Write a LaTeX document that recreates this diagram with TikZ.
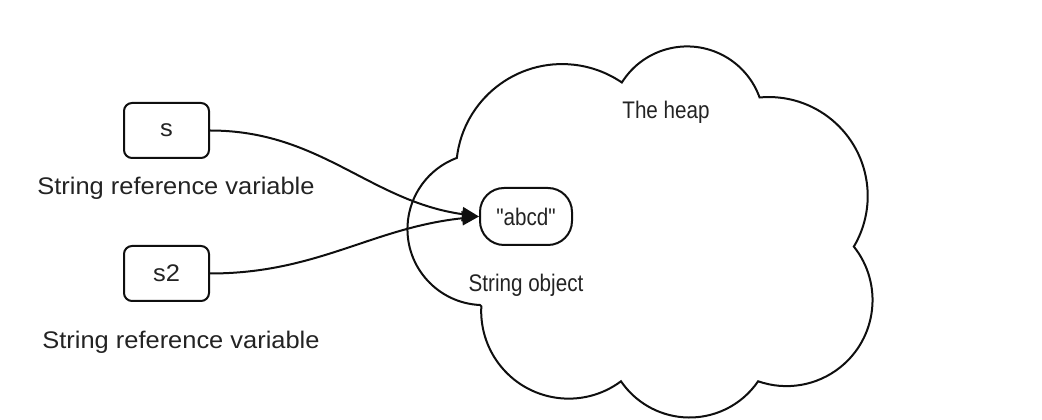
\documentclass[tikz,border=0pt]{standalone}
\usepackage{fontspec}
\setmainfont{Liberation Sans}
\newfontfamily\plainsans{Liberation Sans}[Ligatures=TeXOff]
\usepackage{graphicx}
\usetikzlibrary{arrows.meta}
\definecolor{textgray}{RGB}{35,35,35}
\definecolor{linegray}{RGB}{15,15,15}
\newcommand{\widetxt}[1]{\scalebox{1.06}[1]{#1}}
\newcommand{\narrowtxt}[1]{\scalebox{0.86}[1]{#1}}
\begin{document}
\begin{tikzpicture}[x=1pt,y=1pt,
  every node/.style={font=\fontsize{24}{28}\selectfont, text=textgray},
  varbox/.style={draw=linegray, line width=2pt, rounded corners=8pt,
    minimum width=85pt, minimum height=55pt, inner sep=0pt},
  objbox/.style={draw=linegray, line width=2pt, rounded corners=24pt,
    minimum width=92pt, minimum height=57pt, inner sep=0pt},
  lbl/.style={inner sep=0pt},
  link/.style={draw=linegray, line width=2pt, -{Triangle[length=17pt,width=14pt]}},
  cloudline/.style={draw=linegray, line width=2pt, line join=miter}]
\useasboundingbox (0,0) rectangle (1042,420);

% the heap (cloud)
\draw[cloudline] (480,115)
  arc[start angle=-92.6, end angle=-249.5, radius=76]
  arc[start angle=-186.6, end angle=-304.3, radius=106]
  arc[start angle=-212.1, end angle=-340.3, radius=77]
  arc[start angle=-264.7, end angle=-390.7, radius=99]
  arc[start angle=38.5, end angle=-109.3, radius=86]
  arc[start angle=-34.3, end angle=-145.7, radius=83]
  arc[start angle=-53.3, end angle=-183.1, radius=87.5]
  -- cycle;

\node[lbl] (heap) at (666,308) {\narrowtxt{The heap}};
\node[objbox] (abcd) at (526,203.5) {\narrowtxt{\plainsans "abcd"}};
\node[lbl] (obj) at (526,135) {\narrowtxt{String object}};

\node[varbox] (s) at (166.5,289.5) {\widetxt{s}};
\node[lbl] (sl) at (176,232) {\widetxt{String reference variable}};
\node[varbox] (s2) at (166.5,146.5) {\widetxt{s2}};
\node[lbl] (s2l) at (181,78) {\widetxt{String reference variable}};

\draw[link] (s.east) to[out=0, in=172] (abcd.west);
\draw[link] (s2.east) to[out=0, in=186] (abcd.west);
\end{tikzpicture}
\end{document}
